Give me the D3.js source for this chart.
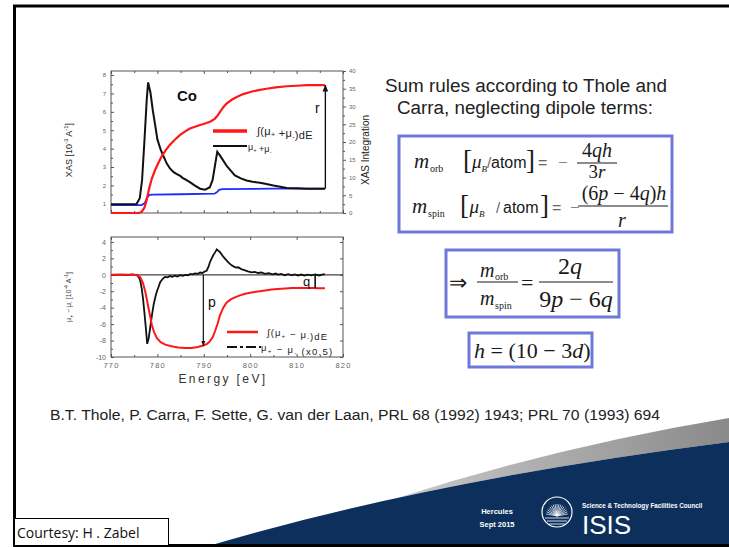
<!DOCTYPE html>
<html>
<head>
<meta charset="utf-8">
<script src="https://cdn.jsdelivr.net/npm/d3@7"></script>
<style>
  html, body { margin: 0; padding: 0; background: #fff; }
  svg { display: block; }
  .ax path, .ax line { stroke: #555; }
  .ax text { fill: #666; font-family: "Liberation Sans", Arial, sans-serif; }
</style>
</head>
<body>
<svg id="slide" width="729" height="547"></svg>
<script>
// ---- data -------------------------------------------------------------
const energyTicks = [770, 780, 790, 800, 810, 820];
const energyMinor = [775, 785, 795, 805, 815];
const xasTicks = [1, 2, 3, 4, 5, 6, 7, 8];
const xasMinor = [1.5, 2.5, 3.5, 4.5, 5.5, 6.5, 7.5];
const integTicks = [0, 5, 10, 15, 20, 25, 30, 35, 40];
const integMinor = [2.5, 7.5, 12.5, 17.5, 22.5, 27.5, 32.5, 37.5];
const xmcdTicks = [-10, -8, -6, -4, -2, 0, 2, 4];
const xmcdMinor = [-9, -7, -5, -3, -1, 1, 3];

// mu+ + mu- (left axis)
const sumSpectrum = [
  [770, 0.98], [772, 0.98], [774, 0.98], [775.5, 0.99], [776.2, 1.3], [776.7, 2.3],
  [777.2, 4.4], [777.7, 6.65], [778.0, 7.6], [778.5, 7.05], [779.0, 6.1], [779.5, 5.3],
  [780, 4.5], [780.7, 3.95], [781.3, 3.6], [782, 3.2], [782.7, 2.92], [783.5, 2.72],
  [784.2, 2.62], [784.9, 2.52], [785.5, 2.4], [786, 2.33], [787, 2.18], [788, 2.0],
  [789.2, 1.82], [790.3, 1.77], [791.3, 1.9], [791.9, 2.3], [792.4, 3.07], [792.9, 3.83],
  [793.5, 3.62], [794.2, 3.35], [794.9, 3.07], [795.8, 2.8], [796.7, 2.54], [798, 2.38],
  [799.2, 2.27], [800.5, 2.2], [802.1, 2.15], [803.5, 2.08], [805, 2.0], [806.5, 1.93],
  [807.9, 1.86], [810, 1.84], [812.2, 1.82], [814, 1.82], [816.1, 1.82]
];
// edge-step background (left axis)
const stepBackground = [
  [770, 0.93], [776.6, 0.93], [777.3, 1.05], [777.8, 1.35], [778.3, 1.48], [779, 1.5],
  [785, 1.52], [792.3, 1.55], [792.8, 1.62], [793.3, 1.76], [794, 1.8], [805, 1.82], [816.1, 1.82]
];
// integral of mu+ + mu- (right axis)
const sumIntegral = [
  [770, 0], [776, 0], [776.6, 0.3], [777.2, 1.5], [777.7, 3.7], [778.2, 6.8], [778.8, 9.7],
  [779.5, 12.1], [780.2, 14.1], [780.9, 15.9], [781.8, 17.7], [782.7, 19.2], [783.8, 20.7],
  [784.9, 22], [786, 23], [787, 23.8], [788.1, 24.3], [789.2, 24.8], [790.3, 25.2],
  [791.3, 25.7], [791.9, 26.1], [792.4, 26.6], [793, 27.5], [793.5, 28.5], [794.2, 29.8],
  [794.9, 30.8], [796, 31.9], [797.1, 32.7], [798.5, 33.5], [800, 34.1], [801.8, 34.6],
  [803.5, 35], [805.5, 35.4], [807.9, 35.7], [810, 35.85], [812.2, 36], [814, 36], [816.1, 36]
];
// mu+ - mu- (x0.5)
const diffSpectrum = [
  [770, 0], [772, 0.02], [774, -0.02], [774.5, 0.05], [775.2, 0], [775.6, -0.05], [776, -0.3],
  [776.3, -0.7], [776.6, -1.6], [776.9, -2.9], [777.2, -4.6], [777.5, -6.4], [777.8, -8.4],
  [778.1, -7.8], [778.4, -6.6], [778.8, -5.0], [779.2, -3.6], [779.6, -2.6], [779.9, -2.0],
  [780.3, -1.4], [780.6, -0.9], [781, -0.6], [781.4, -0.35], [781.7, -0.25], [782.2, -0.3],
  [782.7, -0.15], [783.2, -0.25], [783.8, -0.1], [784.3, -0.22], [784.9, -0.05], [785.5, -0.12],
  [786, 0], [786.6, -0.05], [787.1, 0.1], [787.6, 0.05], [788.1, 0.18], [788.7, 0.12],
  [789.2, 0.28], [789.7, 0.22], [790.2, 0.4], [790.6, 0.5], [791, 0.95], [791.3, 1.5],
  [791.7, 2.0], [792, 2.35], [792.4, 2.7], [792.8, 3.1], [793.1, 2.95], [793.5, 2.75],
  [793.9, 2.45], [794.2, 2.2], [794.6, 1.95], [795, 1.7], [795.4, 1.45], [796, 1.15],
  [796.5, 1.0], [797, 0.88], [797.4, 0.92], [797.9, 0.75], [798.4, 0.62], [798.9, 0.55],
  [799.5, 0.42], [800.3, 0.3], [801, 0.35], [801.7, 0.22], [802.4, 0.28], [803.2, 0.12],
  [804, 0.2], [804.8, 0.05], [805.5, 0.15], [806, 0.02], [806.7, 0.1], [807.4, -0.05],
  [808.2, 0.08], [809, -0.06], [809.6, 0.04], [810.3, -0.08], [811, 0.03], [811.7, -0.1],
  [812.4, 0.02], [813.2, -0.06], [814, 0.05], [814.8, -0.08], [815.5, 0.02], [816.1, 0.08]
];
// integral of mu+ - mu-
const diffIntegral = [
  [770, 0], [775, 0], [775.8, -0.1], [776.3, -0.3], [776.9, -1.0], [777.4, -2.1], [777.8, -3.2],
  [778.1, -4.1], [778.5, -5.2], [778.8, -6.1], [779.3, -7.0], [779.9, -7.7], [780.7, -8.2],
  [781.7, -8.5], [783, -8.7], [784.5, -8.83], [786, -8.9], [787.4, -8.9], [788.7, -8.78],
  [789.9, -8.6], [790.7, -8.4], [791.3, -8.1], [791.9, -7.6], [792.4, -6.9], [793, -5.9],
  [793.5, -4.9], [794.2, -4.0], [794.9, -3.4], [795.8, -3.0], [796.7, -2.75], [797.8, -2.5],
  [798.9, -2.3], [800.3, -2.15], [801.7, -2.02], [803.2, -1.9], [804.6, -1.8], [806, -1.72],
  [807.5, -1.66], [809, -1.62], [810.5, -1.6], [812, -1.6], [813.5, -1.62], [814.8, -1.63],
  [816.1, -1.65]
];
// sum-rule quantities marked on the curves: energy, from value, to value
const rMark = { energy: 816.2, from: 1.82, to: 36 };
const pMark = { energy: 789.9, from: 0, to: -8.6 };
const qMark = { energy: 814, from: 0, to: -1.63 };

// ---- page -------------------------------------------------------------
const svg = d3.select("#slide");
const SANS = '"Liberation Sans", Arial, sans-serif';
const SERIF = '"Liberation Serif", "Times New Roman", serif';
const NARROW = '"Liberation Sans Narrow", "Liberation Sans", sans-serif';

const defs = svg.append("defs");
const grad = defs.append("linearGradient").attr("id", "swoosh").attr("x1", "0").attr("x2", "1");
grad.append("stop").attr("offset", "0").attr("stop-color", "#eeeeee");
grad.append("stop").attr("offset", "1").attr("stop-color", "#8a8a8a");
function arrowMarker(id, size) {
  defs.append("marker").attr("id", id).attr("viewBox", "0 0 10 10")
    .attr("refX", 9).attr("refY", 5).attr("markerWidth", size).attr("markerHeight", size)
    .attr("markerUnits", "userSpaceOnUse").attr("orient", "auto")
    .append("path").attr("d", "M0,1 L10,5 L0,9 Z").attr("fill", "#111");
}
arrowMarker("arrowR", 7);
arrowMarker("arrowP", 5);

svg.append("rect").attr("width", 729).attr("height", 547).attr("fill", "#fff");

// footer swoosh
svg.append("path").attr("d", "M397,498 Q560,446 729,418 L729,442 Q430,480 205,547 Z").attr("fill", "url(#swoosh)");
svg.append("path").attr("d", "M205,547 Q430,480 729,442 L729,547 Z").attr("fill", "#0d2f5c");

// slide frame
svg.append("path").attr("d", "M731,6 H14.5 V545.5 H731").attr("fill", "none").attr("stroke", "#000").attr("stroke-width", 3);

// ---- top panel: XAS ---------------------------------------------------
const x = d3.scaleLinear().domain([770, 820]).range([111, 343]);
const yL = d3.scaleLinear().domain([0.5, 8.22]).range([213, 71]);
const yR = d3.scaleLinear().domain([0, 40]).range([213, 71]);

const xasPanel = svg.append("g");
xasPanel.append("rect").attr("x", 111).attr("y", 71).attr("width", 232).attr("height", 142)
  .attr("fill", "none").attr("stroke", "#555").attr("stroke-width", 1);

function tickAxis(g, axis) { g.attr("class", "ax").call(axis).call(s => s.select(".domain").remove()); return g; }

tickAxis(xasPanel.append("g").attr("transform", "translate(111,0)"),
  d3.axisLeft(yL).tickValues(xasTicks).tickSize(-3).tickPadding(5).tickFormat(d3.format("d")))
  .selectAll("text").attr("font-size", 6);
tickAxis(xasPanel.append("g").attr("transform", "translate(111,0)"),
  d3.axisLeft(yL).tickValues(xasMinor).tickSize(-2).tickFormat(""));
tickAxis(xasPanel.append("g").attr("transform", "translate(343,0)"),
  d3.axisRight(yR).tickValues(integTicks).tickSize(3).tickPadding(3))
  .selectAll("text").attr("font-size", 6);
tickAxis(xasPanel.append("g").attr("transform", "translate(343,0)"),
  d3.axisRight(yR).tickValues(integMinor).tickSize(2).tickFormat(""));
[[213, d3.axisBottom], [71, d3.axisTop]].forEach(([yy, ax]) => {
  tickAxis(xasPanel.append("g").attr("transform", `translate(0,${yy})`), ax(x).tickValues(energyTicks).tickSize(-3).tickFormat(""));
  tickAxis(xasPanel.append("g").attr("transform", `translate(0,${yy})`), ax(x).tickValues(energyMinor).tickSize(-2).tickFormat(""));
});

const lineL = d3.line().x(d => x(d[0])).y(d => yL(d[1]));
const lineR = d3.line().x(d => x(d[0])).y(d => yR(d[1]));
xasPanel.append("path").datum(stepBackground).attr("d", lineL).attr("fill", "none").attr("stroke", "#1f2cff").attr("stroke-width", 1.8);
xasPanel.append("path").datum(sumSpectrum).attr("d", lineL).attr("fill", "none").attr("stroke", "#111").attr("stroke-width", 2);
xasPanel.append("path").datum(sumIntegral).attr("d", lineR).attr("fill", "none").attr("stroke", "#ff1717").attr("stroke-width", 2.2);

xasPanel.append("line").attr("x1", x(rMark.energy)).attr("x2", x(rMark.energy))
  .attr("y1", yL(rMark.from)).attr("y2", yR(rMark.to)).attr("stroke", "#111").attr("stroke-width", 1.4)
  .attr("marker-end", "url(#arrowR)");
xasPanel.append("text").attr("x", 315).attr("y", 113).attr("font-family", SANS).attr("font-size", 14).attr("fill", "#111").text("r");
xasPanel.append("text").attr("x", 177).attr("y", 101).attr("font-family", SANS).attr("font-size", 15).attr("font-weight", "bold").attr("fill", "#111").text("Co");

// legend
xasPanel.append("line").attr("x1", 213).attr("x2", 247).attr("y1", 131).attr("y2", 131).attr("stroke", "#ff1717").attr("stroke-width", 3.5);
xasPanel.append("line").attr("x1", 213).attr("x2", 247).attr("y1", 146).attr("y2", 146).attr("stroke", "#111").attr("stroke-width", 2);
function muText(g, xx, yy, parts, size, spacing) {
  const t = g.append("text").attr("x", xx).attr("y", yy).attr("font-family", SANS)
    .attr("font-size", size).attr("fill", "#222").attr("letter-spacing", spacing || 0);
  parts.forEach(p => {
    if (Array.isArray(p)) t.append("tspan").attr("font-size", size * 0.65).attr("dy", p[1]).text(p[0]);
    else t.append("tspan").text(p);
  });
  return t;
}
muText(xasPanel, 257, 135, ["∫(μ", ["+", 2], ["", -2], " +μ", ["-", 2], ["", -2], ")dE"], 11, 0.3);
muText(xasPanel, 248, 150, ["μ", ["+", 2], ["", -2], " +μ", ["-", 2]], 9);

xasPanel.append("text").attr("transform", "translate(369,150) rotate(-90)").attr("text-anchor", "middle")
  .attr("font-family", SANS).attr("font-size", 10).attr("fill", "#222").text("XAS Integration");
const yl = xasPanel.append("text").attr("transform", "translate(72,150) rotate(-90)").attr("text-anchor", "middle")
  .attr("font-family", SANS).attr("font-size", 9).attr("fill", "#222");
yl.append("tspan").text("XAS [10");
yl.append("tspan").attr("font-size", 6).attr("dy", -4).text("-3");
yl.append("tspan").attr("dy", 4).text(" A");
yl.append("tspan").attr("font-size", 6).attr("dy", -4).text("-1");
yl.append("tspan").attr("dy", 4).text("]");

// ---- bottom panel: XMCD ------------------------------------------------
const yB = d3.scaleLinear().domain([-10, 4.6]).range([357, 237]);
const bot = svg.append("g");
bot.append("rect").attr("x", 111).attr("y", 237).attr("width", 232).attr("height", 120)
  .attr("fill", "none").attr("stroke", "#555").attr("stroke-width", 1);
tickAxis(bot.append("g").attr("transform", "translate(111,0)"),
  d3.axisLeft(yB).tickValues(xmcdTicks).tickSize(-3).tickPadding(5))
  .selectAll("text").attr("font-size", 7).text(d => d < 0 ? "-" + (-d) : d);
tickAxis(bot.append("g").attr("transform", "translate(111,0)"),
  d3.axisLeft(yB).tickValues(xmcdMinor).tickSize(-2).tickFormat(""));
tickAxis(bot.append("g").attr("transform", "translate(343,0)"),
  d3.axisLeft(yB).tickValues(xmcdTicks).tickSize(3).tickFormat(""));
tickAxis(bot.append("g").attr("transform", "translate(0,357)"),
  d3.axisBottom(x).tickValues(energyTicks).tickSize(-3).tickPadding(6))
  .selectAll("text").attr("font-size", 7.5).attr("letter-spacing", 1.2);
tickAxis(bot.append("g").attr("transform", "translate(0,357)"),
  d3.axisBottom(x).tickValues(energyMinor).tickSize(-2).tickFormat(""));
tickAxis(bot.append("g").attr("transform", "translate(0,237)"),
  d3.axisTop(x).tickValues(energyTicks).tickSize(-3).tickFormat(""));

bot.append("line").attr("x1", 111).attr("x2", 343).attr("y1", yB(0)).attr("y2", yB(0)).attr("stroke", "#444").attr("stroke-width", 1.2);
const lineB = d3.line().x(d => x(d[0])).y(d => yB(d[1]));
bot.append("path").datum(diffSpectrum).attr("d", lineB).attr("fill", "none").attr("stroke", "#111").attr("stroke-width", 1.8);
bot.append("path").datum(diffIntegral).attr("d", lineB).attr("fill", "none").attr("stroke", "#ff1717").attr("stroke-width", 2);

bot.append("line").attr("x1", x(pMark.energy)).attr("x2", x(pMark.energy))
  .attr("y1", yB(pMark.from)).attr("y2", yB(pMark.to)).attr("stroke", "#111").attr("stroke-width", 1.2)
  .attr("marker-end", "url(#arrowP)");
bot.append("line").attr("x1", x(qMark.energy)).attr("x2", x(qMark.energy))
  .attr("y1", yB(qMark.from)).attr("y2", yB(qMark.to)).attr("stroke", "#111").attr("stroke-width", 1.6);
bot.append("text").attr("x", 208).attr("y", 307).attr("font-family", SANS).attr("font-size", 14).attr("fill", "#111").text("p");
bot.append("text").attr("x", 303).attr("y", 286).attr("font-family", SANS).attr("font-size", 13).attr("fill", "#111").text("q");

bot.append("line").attr("x1", 227).attr("x2", 258).attr("y1", 332).attr("y2", 332).attr("stroke", "#ff1717").attr("stroke-width", 2.5);
bot.append("line").attr("x1", 227).attr("x2", 261).attr("y1", 347).attr("y2", 347).attr("stroke", "#111").attr("stroke-width", 2)
  .attr("stroke-dasharray", "10,3,3,3");
muText(bot, 267, 336, ["∫(μ", ["+", 2], ["", -2], " − μ", ["-", 2], ["", -2], ")dE"], 9.5, 1.1);
muText(bot, 261, 351, ["μ", ["+", 2], ["", -2], " − μ", ["-", 2], ["", -2], " (x0.5)"], 9.5, 1.3);

bot.append("text").attr("x", 223).attr("y", 383).attr("text-anchor", "middle").attr("font-family", SANS)
  .attr("font-size", 12).attr("letter-spacing", 2.4).attr("fill", "#333").text("Energy [eV]");
const bl = bot.append("text").attr("transform", "translate(71,297) rotate(-90)").attr("text-anchor", "middle")
  .attr("font-family", SANS).attr("font-size", 7).attr("fill", "#444");
bl.append("tspan").text("μ");
bl.append("tspan").attr("font-size", 5).attr("dy", 2).text("+");
bl.append("tspan").attr("dy", -2).text(" − μ");
bl.append("tspan").attr("font-size", 5).attr("dy", 2).text("-");
bl.append("tspan").attr("dy", -2).text(" [10");
bl.append("tspan").attr("font-size", 5).attr("dy", -3).text("-4");
bl.append("tspan").attr("dy", 3).text(" A");
bl.append("tspan").attr("font-size", 5).attr("dy", -3).text("-1");
bl.append("tspan").attr("dy", 3).text("]");

// ---- sum rules --------------------------------------------------------
const rules = svg.append("g");
rules.append("text").attr("x", 385).attr("y", 92).attr("font-family", SANS)
  .attr("font-size", 18).attr("fill", "#222").attr("textLength", 282).attr("lengthAdjust", "spacingAndGlyphs")
  .text("Sum rules according to Thole and");
rules.append("text").attr("x", 397).attr("y", 114).attr("font-family", SANS)
  .attr("font-size", 18).attr("fill", "#222").attr("textLength", 256).attr("lengthAdjust", "spacingAndGlyphs")
  .text("Carra, neglecting dipole terms:");

function box(x0, y0, x1, y1) {
  rules.append("rect").attr("x", x0).attr("y", y0).attr("width", x1 - x0).attr("height", y1 - y0)
    .attr("fill", "#fff").attr("stroke", "#6e78d8").attr("stroke-width", 3);
}
box(399, 136, 672, 232);
box(446, 250, 619, 317);
box(469, 333, 592, 367);

function t(xx, yy, str, o) {
  o = o || {};
  return rules.append("text").attr("x", xx).attr("y", yy).attr("font-family", o.sans ? SANS : SERIF)
    .attr("font-size", o.size || 21).attr("font-style", o.italic ? "italic" : "normal")
    .attr("text-anchor", o.anchor || "start").attr("fill", o.fill || "#1a1a1a").text(str);
}
// formula text: latin letters italic, digits and operators upright
function m(xx, yy, str, size, anchor) {
  const el = rules.append("text").attr("x", xx).attr("y", yy).attr("font-family", SERIF)
    .attr("font-size", size).attr("text-anchor", anchor || "start").attr("fill", "#1a1a1a");
  (str.match(/[a-z]+|[^a-z]+/g) || []).forEach(run => {
    el.append("tspan").attr("font-style", /[a-z]/.test(run) ? "italic" : "normal").text(run);
  });
  return el;
}
function bar(x0, x1, yy) {
  rules.append("line").attr("x1", x0).attr("x2", x1).attr("y1", yy).attr("y2", yy).attr("stroke", "#1a1a1a").attr("stroke-width", 1.2);
}
// m_orb
t(414, 168, "m", { italic: true, size: 21 });
t(430, 172, "orb", { size: 10 });
t(463, 169, "[", { size: 27 });
t(472, 168, "μ", { italic: true, size: 19 });
t(481.5, 172, "B", { italic: true, size: 9 });
t(487, 168, "/", { sans: true, size: 15, fill: "#666" });
t(491, 168, "atom", { sans: true, size: 16 });
t(526, 169, "]", { size: 27 });
t(538, 168, "=", { sans: true, size: 16, fill: "#666" });
t(558, 168, "−", { size: 17, fill: "#666" });
m(597, 157, "4qh", 20, "middle");
bar(577, 617, 163);
m(597, 178, "3r", 19, "middle");
// m_spin
t(412, 213, "m", { italic: true, size: 21 });
t(428, 217, "spin", { size: 10 });
t(460, 214, "[", { size: 27 });
t(469.5, 213, "μ", { italic: true, size: 19 });
t(479, 217, "B", { italic: true, size: 9 });
t(496, 213, "/", { sans: true, size: 15, fill: "#666" });
t(503, 213, "atom", { sans: true, size: 16 });
t(540, 214, "]", { size: 27 });
t(552, 213, "=", { sans: true, size: 16, fill: "#666" });
t(570, 213, "−", { size: 17, fill: "#666" });
m(624, 200, "(6p − 4q)h", 20, "middle");
bar(578, 668, 206);
m(622, 227, "r", 20, "middle");
// ratio
t(449, 290, "⇒", { size: 22 });
t(480, 277, "m", { italic: true, size: 20 });
t(495, 280, "orb", { size: 10 });
bar(477, 518, 282);
t(480, 305, "m", { italic: true, size: 20 });
t(495, 309, "spin", { size: 10 });
t(521, 290, "=", { size: 22 });
m(570, 274, "2q", 24, "middle");
bar(539, 613, 282);
m(576, 307, "9p − 6q", 24, "middle");
// holes
m(474, 358, "h = (10 − 3d)", 22);

// ---- footer -------------------------------------------------------------
svg.append("text").attr("x", 50).attr("y", 420).attr("font-family", SANS).attr("font-size", 14).attr("fill", "#222")
  .attr("textLength", 610).attr("lengthAdjust", "spacingAndGlyphs")
  .text("B.T. Thole, P. Carra, F. Sette, G. van der Laan, PRL 68 (1992) 1943; PRL 70 (1993) 694");

svg.append("rect").attr("x", 14.5).attr("y", 518.5).attr("width", 154).attr("height", 27)
  .attr("fill", "#fff").attr("stroke", "#000").attr("stroke-width", 1);
svg.append("text").attr("x", 17).attr("y", 538).attr("font-family", '"Open Sans", sans-serif').attr("font-size", 14).attr("fill", "#111")
  .text("Courtesy: H . Zabel");

svg.append("text").attr("x", 497).attr("y", 514).attr("text-anchor", "middle").attr("font-family", NARROW)
  .attr("font-size", 7.5).attr("font-weight", "bold").attr("fill", "#fff").text("Hercules");
svg.append("text").attr("x", 497).attr("y", 527).attr("text-anchor", "middle").attr("font-family", NARROW)
  .attr("font-size", 7.5).attr("font-weight", "bold").attr("fill", "#fff").text("Sept 2015");

const logo = svg.append("g").attr("transform", "translate(557,512)");
logo.append("circle").attr("r", 15).attr("fill", "none").attr("stroke", "#fff").attr("stroke-width", 1.2);
d3.range(-80, 81, 10).forEach(a => {
  const r = a * Math.PI / 180;
  logo.append("line").attr("x1", 0).attr("y1", 4).attr("x2", 11 * Math.sin(r)).attr("y2", 4 - 12 * Math.cos(r))
    .attr("stroke", "#fff").attr("stroke-width", 0.7);
});
[6, 9, 12].forEach((yy, i) => {
  logo.append("line").attr("x1", -12 + i * 2).attr("x2", 12 - i * 2).attr("y1", yy).attr("y2", yy).attr("stroke", "#fff").attr("stroke-width", 0.8);
});
svg.append("text").attr("x", 582).attr("y", 508).attr("font-family", NARROW)
  .attr("font-size", 6.3).attr("font-weight", "bold").attr("fill", "#fff").text("Science & Technology Facilities Council");
svg.append("text").attr("x", 582).attr("y", 534).attr("font-family", NARROW)
  .attr("font-size", 26).attr("fill", "#fff").text("ISIS");
</script>
</body>
</html>
